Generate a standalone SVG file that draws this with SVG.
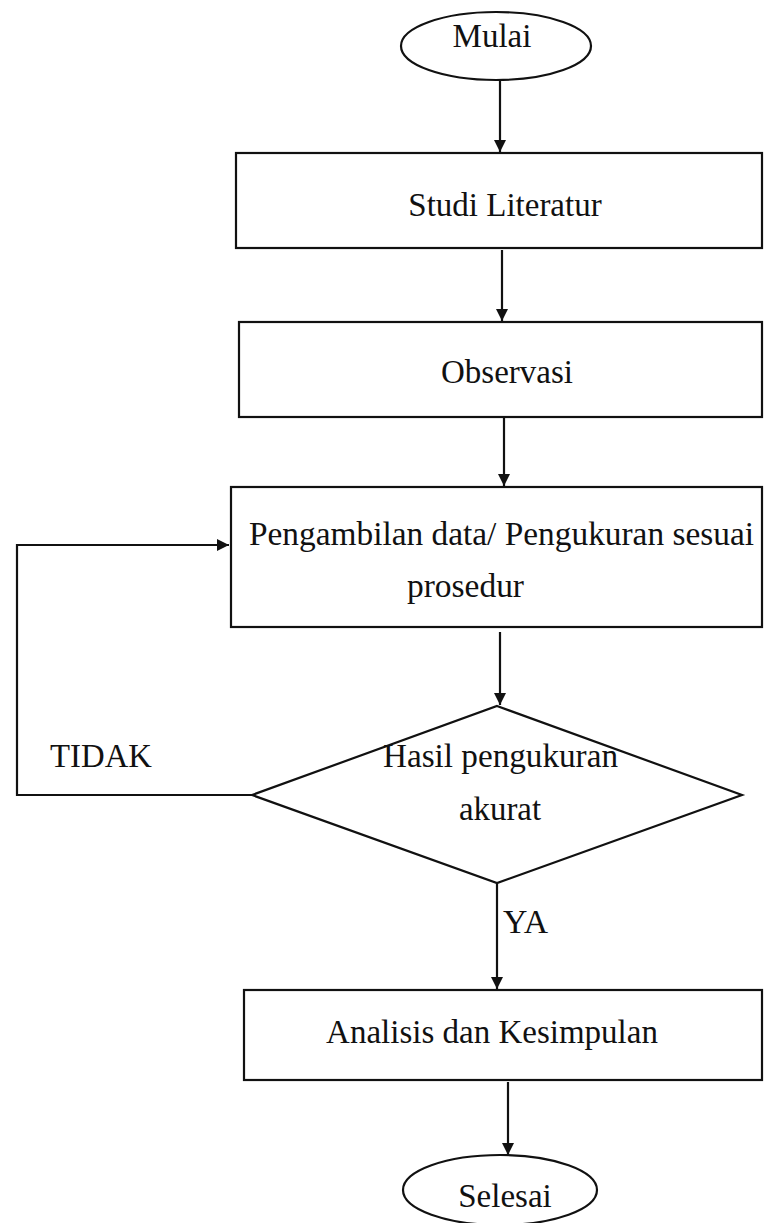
<svg xmlns="http://www.w3.org/2000/svg" width="764" height="1223" viewBox="0 0 764 1223">
<style>
.shape{fill:#fff;stroke:#111;stroke-width:2.2}
.conn{fill:none;stroke:#111;stroke-width:2.2}
text{font-family:"Liberation Serif","Times New Roman",serif;font-size:33px;fill:#111}
</style>
<defs>
<marker id="ah" markerUnits="userSpaceOnUse" markerWidth="14" markerHeight="14" refX="12" refY="6" orient="auto">
<path d="M0,0 L12,6 L0,12 Z" fill="#111"/>
</marker>
</defs>
<rect width="764" height="1223" fill="#fff"/>
<g id="connectors">
<line class="conn" x1="500" y1="80" x2="500" y2="152" marker-end="url(#ah)"/>
<line class="conn" x1="502" y1="250" x2="502" y2="321" marker-end="url(#ah)"/>
<line class="conn" x1="504" y1="418" x2="504" y2="486" marker-end="url(#ah)"/>
<line class="conn" x1="500" y1="632" x2="500" y2="705" marker-end="url(#ah)"/>
<polyline class="conn" points="252,795 17,795 17,545 229,545" marker-end="url(#ah)"/>
<line class="conn" x1="497" y1="883" x2="497" y2="989" marker-end="url(#ah)"/>
<line class="conn" x1="508" y1="1082" x2="508" y2="1155" marker-end="url(#ah)"/>
<text x="50" y="767" textLength="102" lengthAdjust="spacingAndGlyphs">TIDAK</text>
<text x="503" y="933" textLength="45" lengthAdjust="spacingAndGlyphs">YA</text>
</g>
<g id="mulai">
<ellipse class="shape" cx="496" cy="46" rx="95" ry="34"/>
<text x="492" y="47" text-anchor="middle">Mulai</text>
</g>
<g id="studi">
<rect class="shape" x="236" y="153" width="526" height="95"/>
<text x="505" y="216" text-anchor="middle">Studi Literatur</text>
</g>
<g id="observasi">
<rect class="shape" x="239" y="322" width="523" height="95"/>
<text x="507" y="383" text-anchor="middle">Observasi</text>
</g>
<g id="pengambilan">
<rect class="shape" x="231" y="487" width="531" height="140"/>
<text x="249" y="545" textLength="505" lengthAdjust="spacingAndGlyphs">Pengambilan data/ Pengukuran sesuai</text>
<text x="407" y="597" textLength="117" lengthAdjust="spacingAndGlyphs">prosedur</text>
</g>
<g id="keputusan">
<polygon class="shape" points="497,706 742,795 497,883 252,795"/>
<text x="383" y="767" textLength="235" lengthAdjust="spacingAndGlyphs">Hasil pengukuran</text>
<text x="459" y="820" textLength="82" lengthAdjust="spacingAndGlyphs">akurat</text>
</g>
<g id="analisis">
<rect class="shape" x="244" y="990" width="518" height="90"/>
<text x="492" y="1043" text-anchor="middle">Analisis dan Kesimpulan</text>
</g>
<g id="selesai">
<ellipse class="shape" cx="500" cy="1190" rx="97" ry="35"/>
<text x="505" y="1207" text-anchor="middle">Selesai</text>
</g>
</svg>
